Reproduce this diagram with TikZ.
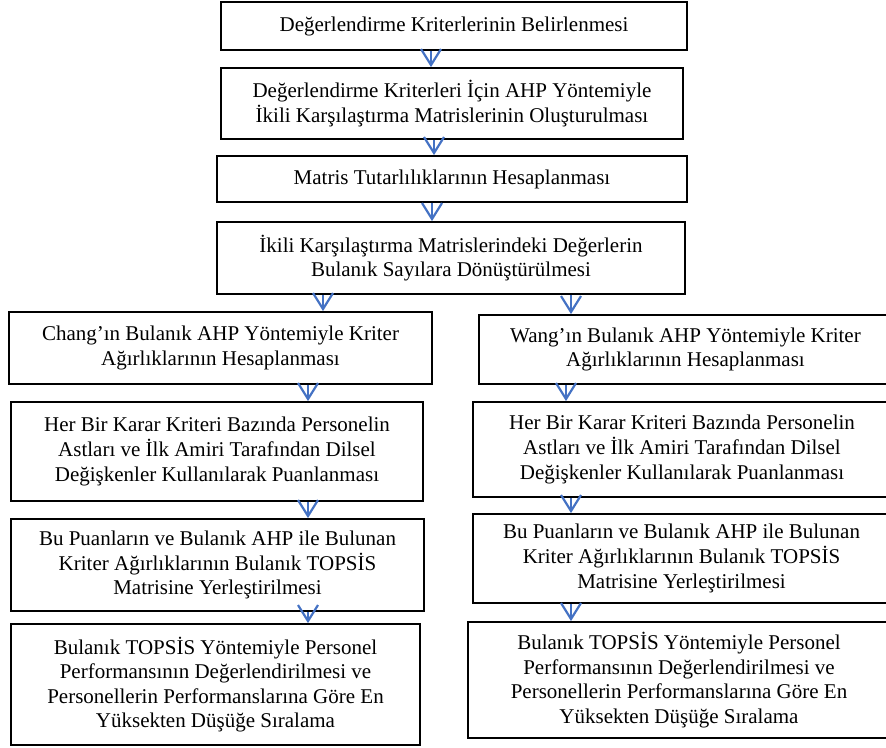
\documentclass[tikz,border=0pt]{standalone}
\usepackage{fontspec}
\setmainfont{Liberation Serif}
\usetikzlibrary{arrows.meta}
\definecolor{arrblue}{RGB}{68,114,196}
\begin{document}
\begin{tikzpicture}[x=1pt,y=-1pt,
  box/.style={draw=black, line width=1.8pt, align=center, inner sep=0pt,
    font=\fontsize{21}{24.6}\selectfont},
  arr/.style={draw=arrblue, line width=2.2pt, line join=miter,
    -{Straight Barb[length=16pt,width=20pt]}}]
\useasboundingbox (0,0) rectangle (886,747);
\clip (0,0) rectangle (886,747);
% central column
\node[box, minimum width=466pt, minimum height=48pt] (B1) at (454,26)
  {Değerlendirme Kriterlerinin Belirlenmesi};
\node[box, minimum width=462pt, minimum height=71pt] (B2) at (452,103.5)
  {Değerlendirme Kriterleri İçin AHP Yöntemiyle\\İkili Karşılaştırma Matrislerinin Oluşturulması};
\node[box, minimum width=470pt, minimum height=46pt] (B3) at (452,179)
  {Matris Tutarlılıklarının Hesaplanması};
\node[box, minimum width=468pt, minimum height=72pt] (B4) at (451,258)
  {İkili Karşılaştırma Matrislerindeki Değerlerin\\Bulanık Sayılara Dönüştürülmesi};
% left column
\node[box, minimum width=423pt, minimum height=72pt] (L1) at (220.5,348)
  {Chang’ın Bulanık AHP Yöntemiyle Kriter\\Ağırlıklarının Hesaplanması};
\node[box, minimum width=412pt, minimum height=99pt] (L2) at (217,451.5)
  {Her Bir Karar Kriteri Bazında Personelin\\Astları ve İlk Amiri Tarafından Dilsel\\Değişkenler Kullanılarak Puanlanması};
\node[box, minimum width=413pt, minimum height=92pt] (L3) at (217.5,565)
  {Bu Puanların ve Bulanık AHP ile Bulunan\\Kriter Ağırlıklarının Bulanık TOPSİS\\Matrisine Yerleştirilmesi};
\node[box, minimum width=409pt, minimum height=121pt] (L4) at (215.5,684.5)
  {Bulanık TOPSİS Yöntemiyle Personel\\Performansının Değerlendirilmesi ve\\Personellerin Performanslarına Göre En\\Yüksekten Düşüğe Sıralama};
% right column
\node[box, minimum width=413pt, minimum height=69pt] (R1) at (685.5,349.5)
  {Wang’ın Bulanık AHP Yöntemiyle Kriter\\Ağırlıklarının Hesaplanması};
\node[box, minimum width=418pt, minimum height=95pt] (R2) at (682,449.5)
  {Her Bir Karar Kriteri Bazında Personelin\\Astları ve İlk Amiri Tarafından Dilsel\\Değişkenler Kullanılarak Puanlanması};
\node[box, minimum width=417pt, minimum height=89pt] (R3) at (681.5,558.5)
  {Bu Puanların ve Bulanık AHP ile Bulunan\\Kriter Ağırlıklarının Bulanık TOPSİS\\Matrisine Yerleştirilmesi};
\node[box, minimum width=422pt, minimum height=116pt] (R4) at (679,680)
  {Bulanık TOPSİS Yöntemiyle Personel\\Performansının Değerlendirilmesi ve\\Personellerin Performanslarına Göre En\\Yüksekten Düşüğe Sıralama};
% connectors
\draw[arr] (B1.south -| 431,0) -- (B2.north -| 431,0);
\draw[arr] (B2.south -| 434,0) -- (B3.north -| 434,0);
\draw[arr] (B3.south -| 432,0) -- (B4.north -| 432,0);
\draw[arr] (B4.south -| 323,0) -- (L1.north -| 323,0);
\draw[arr] (B4.south -| 571,0) -- (R1.north -| 571,0);
\draw[arr] (L1.south -| 308,0) -- (L2.north -| 308,0);
\draw[arr] (L2.south -| 308,0) -- (L3.north -| 308,0);
\draw[arr] (L3.south -| 308,0) -- (L4.north -| 308,0);
\draw[arr] (R1.south -| 566,0) -- (R2.north -| 566,0);
\draw[arr] (R2.south -| 571,0) -- (R3.north -| 571,0);
\draw[arr] (R3.south -| 571,0) -- (R4.north -| 571,0);
\end{tikzpicture}
\end{document}
